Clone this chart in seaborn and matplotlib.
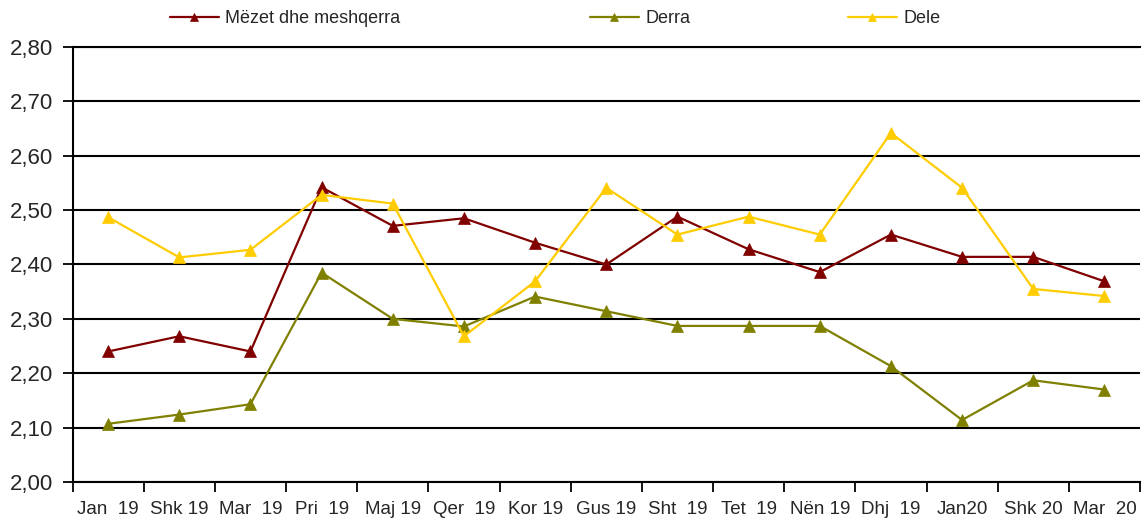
"""Cmimet mesatare - Mëzet, Derra, Dele (Jan 19 - Mar 20)."""

import numpy as np
import pandas as pd
import matplotlib

matplotlib.use("Agg")
import matplotlib.pyplot as plt
from matplotlib.ticker import FuncFormatter
import seaborn as sns


MONTHS = [
    "Jan  19", "Shk 19", "Mar  19", "Pri  19", "Maj 19", "Qer  19", "Kor 19",
    "Gus 19", "Sht  19", "Tet  19", "Nën 19", "Dhj  19", "Jan20", "Shk 20", "Mar  20",
]
MEZET = [2.240, 2.268, 2.240, 2.542, 2.471, 2.485, 2.440, 2.400,
         2.488, 2.428, 2.386, 2.455, 2.414, 2.414, 2.369]
DERRA = [2.107, 2.124, 2.143, 2.385, 2.300, 2.286, 2.341, 2.314,
         2.287, 2.287, 2.287, 2.213, 2.114, 2.187, 2.170]
DELE = [2.487, 2.413, 2.427, 2.528, 2.512, 2.268, 2.369, 2.541,
        2.455, 2.488, 2.455, 2.642, 2.541, 2.355, 2.342]

SERIES = ["Mëzet dhe meshqerra", "Derra", "Dele"]
COLORS = {"Mëzet dhe meshqerra": "#800000", "Derra": "#808000", "Dele": "#FFCC00"}
Y_TICKS = [2.0, 2.1, 2.2, 2.3, 2.4, 2.5, 2.6, 2.7, 2.8]

sns.set_theme(style="white")
plt.rcParams["font.family"] = ["Liberation Sans", "DejaVu Sans"]

df = pd.DataFrame(
    {
        "pos": np.tile(np.arange(len(MONTHS)), 3),
        "value": MEZET + DERRA + DELE,
        "series": np.repeat(SERIES, len(MONTHS)),
    }
)

fig = plt.figure(figsize=(11.44, 5.21), dpi=100)
ax = fig.add_axes([0.0634, 0.0749, 0.9331, 0.8349])

for name in SERIES:
    sub = df[df["series"] == name]
    sns.lineplot(
        data=sub,
        x="pos",
        y="value",
        color=COLORS[name],
        marker="^",
        markersize=8.5,
        markeredgecolor=COLORS[name],
        markeredgewidth=0.5,
        linewidth=1.6,
        label=name,
        legend=False,
        ax=ax,
    )

ax.set_xlim(-0.5, len(MONTHS) - 0.5)
ax.set_ylim(2.0, 2.8)
ax.set_xlabel("")
ax.set_ylabel("")

# ticks on category borders, labels centred
ax.set_xticks(np.arange(-0.5, len(MONTHS), 1.0))
ax.set_xticklabels([])
ax.set_xticks(np.arange(len(MONTHS)), minor=True)
ax.set_xticklabels(MONTHS, minor=True, fontsize=13.5)
ax.tick_params(axis="x", which="major", direction="out", length=7, width=1.3,
               bottom=True, color="black")
ax.tick_params(axis="x", which="minor", length=0, pad=14, bottom=True)

ax.set_yticks(Y_TICKS)
ax.yaxis.set_major_formatter(FuncFormatter(lambda v, _: f"{v:.2f}".replace(".", ",")))
ax.tick_params(axis="y", direction="out", length=7, width=1.3, left=True,
               color="black", labelsize=16, pad=7)

ax.yaxis.grid(True, color="black", linewidth=1.5)
ax.xaxis.grid(False)
ax.set_axisbelow(True)

for side in ["left", "bottom", "top"]:
    ax.spines[side].set_color("black")
    ax.spines[side].set_linewidth(1.5)
ax.spines["right"].set_visible(False)

handles = ax.get_lines()[: len(SERIES)]
legend_x = [170, 590, 848]
for handle, name, x0 in zip(handles, SERIES, legend_x):
    fig.legend(
        [handle],
        [name],
        loc="center left",
        bbox_to_anchor=(x0 / 1144, 0.9645),
        frameon=False,
        borderpad=0,
        borderaxespad=0,
        handlelength=2.7,
        handletextpad=0.35,
        markerscale=0.7,
        fontsize=13,
    )

fig.savefig("out.png", dpi=100)
